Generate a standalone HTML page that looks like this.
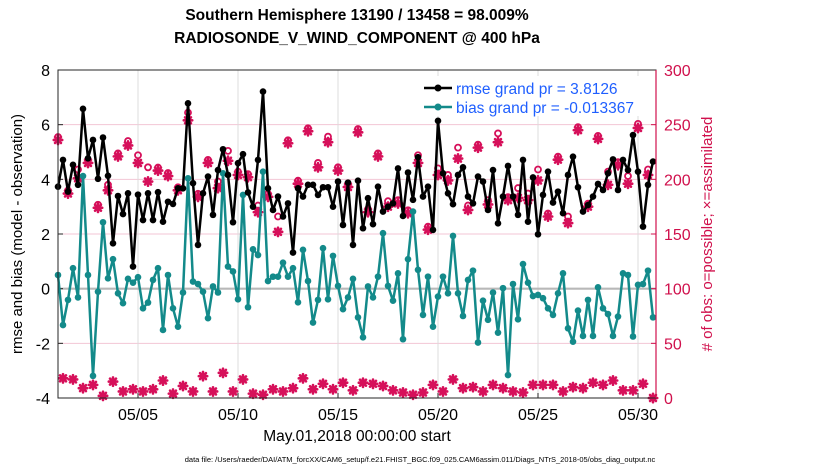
<!DOCTYPE html>
<html><head><meta charset="utf-8"><style>
body{margin:0;background:#fff;}
svg{display:block;font-family:"Liberation Sans",Arial,sans-serif;}
</style></head><body>
<svg id="chart" width="830" height="470" viewBox="0 0 830 470">
<rect width="830" height="470" fill="#fff"/>
<text x="357" y="20" text-anchor="middle" font-size="15.5" font-weight="bold">Southern Hemisphere 13190 / 13458 = 98.009%</text>
<text x="357" y="43" text-anchor="middle" font-size="15.5" font-weight="bold">RADIOSONDE_V_WIND_COMPONENT @ 400 hPa</text>
<g id="grid"></g>
<g id="axes"></g>
<g id="series"></g>
<rect x="58" y="70" width="598" height="328" fill="none" stroke="#262626" stroke-width="1"/>
<line x1="656" y1="70" x2="656" y2="398" stroke="#d0104c" stroke-width="1.2"/>
<text x="22" y="234" transform="rotate(-90 22 234)" text-anchor="middle" font-size="15">rmse and bias (model - observation)</text>
<text x="712" y="234" transform="rotate(-90 712 234)" text-anchor="middle" font-size="15" fill="#d0104c"># of obs: o=possible; ×=assimilated</text>
<text x="357" y="441" text-anchor="middle" font-size="15.5">May.01,2018 00:00:00 start</text>
<text x="420" y="462" text-anchor="middle" font-size="7.5">data file: /Users/raeder/DAI/ATM_forcXX/CAM6_setup/f.e21.FHIST_BGC.f09_025.CAM6assim.011/Diags_NTrS_2018-05/obs_diag_output.nc</text>
<g>
<rect x="418" y="76" width="236" height="40" fill="#fff"/>
<g>
<line x1="424" y1="88" x2="452" y2="88" stroke="#000" stroke-width="2.5"/><circle cx="438" cy="88" r="3.5" fill="#000"/>
<text x="456" y="94" font-size="15.5" fill="#1f5fff">rmse grand pr = 3.8126</text></g>
<g>
<line x1="424" y1="107" x2="452" y2="107" stroke="#138a8a" stroke-width="2.5"/><circle cx="438" cy="107" r="3.5" fill="#138a8a"/>
<text x="456" y="113" font-size="15.5" fill="#1f5fff">bias grand pr = -0.013367</text></g>
</g>
</svg>
<script>
const rmse=[3.73,4.71,3.55,4.53,3.80,6.58,4.77,5.44,4.02,5.53,4.13,1.66,3.39,2.73,3.49,0.81,3.44,2.51,3.49,2.51,3.53,2.45,3.18,3.10,3.67,3.67,6.78,3.86,1.60,3.49,4.10,2.70,4.34,5.10,4.16,2.43,4.59,4.92,3.52,3.00,4.71,7.21,
3.67,2.88,3.37,2.64,3.12,1.32,3.67,3.37,3.80,3.80,3.43,3.71,3.71,3.00,3.92,2.33,3.88,1.60,3.95,2.21,3.31,2.36,3.73,2.82,3.00,3.12,4.40,2.66,4.25,3.25,4.81,3.37,3.73,2.15,6.14,4.22,3.49,3.09,4.16,4.44,3.37,
3.12,4.10,3.92,2.88,4.34,2.39,3.37,4.49,3.37,2.70,4.71,2.45,4.07,1.99,3.43,4.28,3.15,3.55,2.76,4.16,4.83,3.71,2.82,3.06,3.37,3.83,3.61,4.22,4.73,3.61,4.71,4.34,5.62,4.28,2.27,3.80,4.65];
const bias=[0.50,-1.33,-0.41,0.75,-0.32,4.12,0.50,-3.19,-0.11,2.43,0.38,1.08,-0.17,-0.53,0.36,0.22,0.42,-0.72,-0.51,0.32,0.75,-1.51,0.50,-0.72,-1.39,-0.14,4.04,0.26,0.17,-0.11,-1.08,0.08,-0.14,4.22,0.81,0.63,-0.39,3.43,-0.68,1.44,1.23,4.28,
0.28,0.44,0.44,0.95,0.44,0.75,-0.50,1.42,0.28,-1.24,-0.41,1.48,-0.39,1.20,0.10,-0.75,-0.32,0.36,-1.05,-1.78,0.08,-0.32,0.44,2.03,0.10,-0.44,0.56,-1.85,1.08,2.82,0.69,-0.96,0.44,-1.39,-0.29,0.44,-0.17,1.93,-0.17,-1.00,0.32,
0.66,-1.97,-0.44,-1.14,-0.14,-1.61,0.02,-3.16,0.17,-1.12,0.90,0.22,-0.27,-0.23,-0.35,-0.72,-0.96,-0.17,0.56,-1.45,-1.94,-0.80,-1.73,-0.41,-1.73,0.05,-0.72,-0.93,-1.73,-1.02,0.56,0.50,-1.75,0.14,0.17,0.66,-1.05];
const obsHighAssim=[236,187,201,215,174,190,221,231,215,198,208,203,190,254,184,215,192,217,204,202,170,184,152,233,196,244,211,234,208,193,243,170,221,175,178,169,215,154,204,199,219,172,229,177,234,181,183,181,199,166,218,160,245,175,237,195,213,196,247,204];
const obsHighPoss=[236,187,209,215,174,195,221,235,222,211,208,203,190,261,184,215,198,226,207,202,176,184,166,233,196,244,215,239,211,193,246,170,221,180,181,169,222,154,210,204,229,176,229,181,242,181,192,187,209,166,218,166,245,175,237,207,213,203,248,209];
const obsLow=[18,17,9,12,2,15,6,8,6,8,16,4,11,6,20,6,23,6,17,4,3,8,6,9,18,8,13,8,14,7,14,13,11,7,5,3,5,12,6,17,9,10,6,12,9,6,5,12,12,12,6,10,9,14,12,16,7,7,13,0];
const leftTicks=[-4,-2,0,2,4,6,8];
const rightTicks=[0,50,100,150,200,250,300];
const dateTicks=[5,10,15,20,25,30];
const dateLabels=["05/05","05/10","05/15","05/20","05/25","05/30"];
const stepsPerDay=4;

const NS="http://www.w3.org/2000/svg";
const X0=58,X1=656,Y0=70,Y1=398;
const xDay=d=>X0+(d-1)*20;
const xIdx=i=>xDay(1+i/stepsPerDay);
const yL=v=>Y1-(v+4)/12*(Y1-Y0);
const yR=v=>Y1-v/300*(Y1-Y0);
function mk(tag,attrs,parent){const e=document.createElementNS(NS,tag);for(const k in attrs)e.setAttribute(k,attrs[k]);parent.appendChild(e);return e;}
const grid=document.getElementById('grid'),axes=document.getElementById('axes'),ser=document.getElementById('series');

rightTicks.forEach(t=>{const y=yR(t);
 if(t>0&&t<300){const g=mk('line',{x1:X0,x2:X1,y1:y,y2:y,stroke:'#f3c6d4','stroke-width':1},grid);
 
 }
 mk('line',{x1:X1,x2:X1-5,y1:y,y2:y,stroke:'#d0104c'},axes);
 const tx=mk('text',{x:X1+8,y:y+6,'font-size':16,fill:'#d0104c'},axes);tx.textContent=t;
 
 
});
dateTicks.forEach((d,k)=>{const x=xDay(d);
 const g=mk('line',{x1:x,x2:x,y1:Y0,y2:Y1,stroke:'#dcdcdc','stroke-width':1},grid);
 
 
 mk('line',{x1:x,x2:x,y1:Y1,y2:Y1-5,stroke:'#262626'},axes);
 const tx=mk('text',{x:x,y:Y1+22,'font-size':16,'text-anchor':'middle'},axes);tx.textContent=dateLabels[k];
 
 
});
leftTicks.forEach(t=>{const y=yL(t);
 mk('line',{x1:X0,x2:X0+5,y1:y,y2:y,stroke:'#262626'},axes);
 const tx=mk('text',{x:X0-8,y:y+6,'font-size':16,'text-anchor':'end'},axes);tx.textContent=t;
 
 
});
const zl=mk('line',{x1:X0,x2:X1,y1:yL(0),y2:yL(0),stroke:'#b8b8b8','stroke-width':2.2},grid);



// obs markers
const obsG=mk('g',{},ser);


function star(x,y){const r=4.2;
 for(let a=0;a<4;a++){const t=a*Math.PI/4;mk('line',{x1:x-r*Math.cos(t),y1:y-r*Math.sin(t),x2:x+r*Math.cos(t),y2:y+r*Math.sin(t),stroke:'#d6105a','stroke-width':2.6,'stroke-linecap':'round'},obsG);}
 mk('circle',{cx:x,cy:y,r:2.6,fill:'#d6105a'},obsG);}
function ring(x,y){mk('circle',{cx:x,cy:y,r:3,fill:'none',stroke:'#d6105a','stroke-width':1.8},obsG);}
obsHighAssim.forEach((v,k)=>{const x=xIdx(2*k);ring(x,yR(obsHighPoss[k])-(obsHighPoss[k]-v<3?3:0));star(x,yR(v));});
obsLow.forEach((v,k)=>{const x=xIdx(2*k+1);star(x,yR(v));});

function line(arr,color,name){
 const g=mk('g',{},ser);
 
 
 mk('polyline',{points:arr.map((v,i)=>xIdx(i)+','+yL(v)).join(' '),fill:'none',stroke:color,'stroke-width':2.5,'stroke-linejoin':'round'},g);
 arr.forEach((v,i)=>mk('circle',{cx:xIdx(i),cy:yL(v),r:3.3,fill:color},g));
}
line(bias,'#138a8a','bias-series');
line(rmse,'#000','rmse-series');
</script>
</body></html>
